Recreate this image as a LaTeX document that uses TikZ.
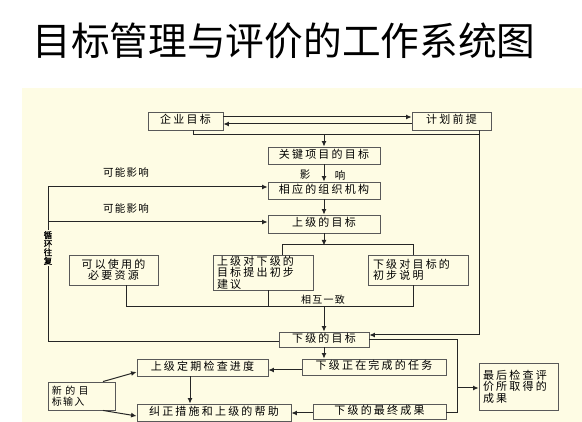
\documentclass[tikz,border=0pt]{standalone}
\usepackage{fontspec}
\setmainfont{Noto Sans CJK SC}
\newfontfamily\boxfont[LetterSpace=20]{Noto Sans CJK SC}
\newfontfamily\lblfont[LetterSpace=12]{Noto Sans CJK SC}
\newfontfamily\boldlbl[FakeBold=1.5]{Noto Sans CJK SC}
\usetikzlibrary{arrows.meta}
\definecolor{bgc}{HTML}{FEFCE4}
\tikzset{
  bx/.style={draw=black!65, line width=0.9pt, fill=bgc, inner sep=0pt,
    text height=0.8em, text depth=0.2em, font=\boxfont\fontsize{11}{11.6}\selectfont},
  lbl/.style={inner sep=0pt, font=\lblfont\fontsize{10.5}{12}\selectfont},
  ln/.style={draw=black!85, line width=1pt},
  ar/.style={ln, -{Latex[length=5.5pt,width=5pt]}}
}
\begin{document}
\begin{tikzpicture}[x=1pt,y=-1pt]
\useasboundingbox (0,0) rectangle (582,422);
\fill[white] (0,0) rectangle (582,422);
\fill[bgc] (22,88) rectangle (582,422);
% title
\node[anchor=base, inner sep=0pt, font=\fontsize{38.7}{42}\selectfont] (title) at (284,56) {目标管理与评价的工作系统图};
% boxes
\node[bx, minimum width=75, minimum height=18] (qyt) at (185.5,121) {企业目标};
\node[bx, minimum width=79, minimum height=18] (jhqt) at (451.5,121) {计划前提};
\node[bx, minimum width=112, minimum height=17] (gjxm) at (324,155.5) {关键项目的目标};
\node[bx, minimum width=112, minimum height=17] (xyzz) at (324,190.5) {相应的组织机构};
\node[bx, minimum width=112, minimum height=18] (sjmb) at (324,224) {上级的目标};
\node[bx, minimum width=89, minimum height=30, align=center, text height=, text depth=] (zyzy) at (113.5,270) {可以使用的\\必要资源};
\node[bx, minimum width=100, minimum height=35, text width=92, inner xsep=4pt, align=left, text height=, text depth=] (sjdx) at (263,272.5) {上级对下级的\\目标提出初步\\建议};
\node[bx, minimum width=100, minimum height=30, text width=90, inner xsep=5pt, align=left, text height=, text depth=] (xjdm) at (418,270) {下级对目标的\\初步说明};
\node[bx, minimum width=90, minimum height=15] (xjmb) at (324,339.5) {下级的目标};
\node[bx, minimum width=144, minimum height=16] (xjzz) at (374,367) {下级正在完成的任务};
\node[bx, minimum width=131, minimum height=17] (sjdq) at (202.5,367.5) {上级定期检查进度};
\node[bx, minimum width=154, minimum height=17] (jzcs) at (214,412.5) {纠正措施和上级的帮助};
\node[bx, minimum width=133, minimum height=15] (xjcg) at (379.5,411.5) {下级的最终成果};
\node[bx, minimum width=79, minimum height=47, text width=71, inner xsep=4pt, align=left, text height=, text depth=] (zhjc) at (518.5,386.5) {最后检查评\\价所取得的\\成果};
\node[bx, minimum width=67, minimum height=28, text width=59, inner xsep=4pt, align=left, text height=, text depth=, font=\lblfont\fontsize{10}{11.5}\selectfont] (xdmb) at (81.5,396) {新\ 的\ 目\\标输入};
% labels
\node[lbl] (lb1) at (126,172) {可能影响};
\node[lbl] (lb2) at (126,208) {可能影响};
\node[lbl] (lb3) at (305,175) {影};
\node[lbl] (lb4) at (340,175) {响};
\node[lbl, font=\lblfont\fontsize{10}{12}\selectfont] (lb5) at (323,300) {相互一致};
% top connectors
\draw[ar] (qyt.east |- 0,117) -- (jhqt.west |- 0,117);
\draw[ar] (jhqt.west |- 0,124) -- (qyt.east |- 0,124);
\draw[ln] (qyt.south -| 193,0) |- (479,135);
\draw[ar] (jhqt.south -| 479,0) |- (xjmb.east |- 0,335);
\draw[ar] (324,135) -- (gjxm.north);
\draw[ar] (gjxm.south) -- (xyzz.north);
\draw[ar] (xyzz.south) -- (sjmb.north);
\draw[ar] (sjmb.south) -- (324,245.5);
\draw[ln] (sjdx.north -| 282,0) -- (282,245) -- (413,245) -- (xjdm.north -| 413,0);
\draw[ln] (zyzy.south -| 126,0) -- (126,307) -- (413,307) -- (xjdm.south -| 413,0);
\draw[ln] (sjdx.south -| 268,0) -- (268,307);
\draw[ar] (xjmb.north |- 0,307) -- (xjmb.north);
% left loop
\draw[ln] (xjmb.west |- 0,342) -- (48,342) -- (48,187);
\draw[ar] (48,187) -- (xyzz.west |- 0,187);
\draw[ar] (48,222) -- (sjmb.west |- 0,222);
\node[inner sep=1pt, fill=bgc, align=center, font=\boldlbl\fontsize{8.5}{8.6}\selectfont] (xh) at (48,248) {循\\环\\往\\复};
% right side
\draw[ln] (xjmb.east |- 0,340) -- (457,340) -- (457,413) -- (xjcg.east |- 0,413);
\draw[ar] (457,388) -- (zhjc.west |- 0,388);
% lower part
\draw[ar] (xjmb.south) -- (xjmb.south |- xjzz.north);
\draw[ar] (xjzz.west |- 0,370) -- (sjdq.east |- 0,370);
\draw[ar] (sjdq.south -| 190,0) -- (jzcs.north -| 190,0);
\draw[ar] (xjcg.west |- 0,413) -- (jzcs.east |- 0,413);
\draw[ar] (xdmb.north -| 103,0) -- (sjdq.west |- 0,372);
\draw[ar] (xdmb.south -| 103,0) -- (jzcs.west |- 0,416);
\end{tikzpicture}
\end{document}
